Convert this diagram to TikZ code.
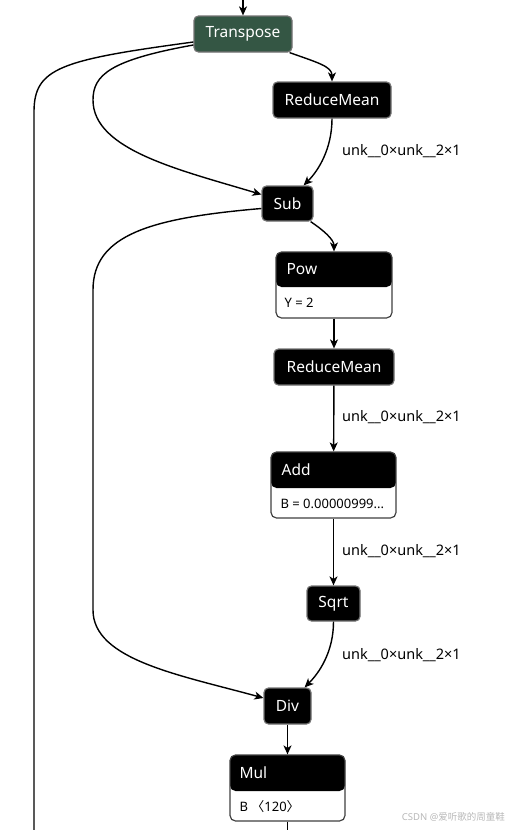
\documentclass[tikz,border=0pt]{standalone}
\usepackage{fontspec}
\setmainfont{Noto Sans}
\newfontfamily\cjk{Noto Sans CJK SC}
\usetikzlibrary{positioning,calc,arrows.meta}
\definecolor{tgreen}{RGB}{52,86,68}
\tikzset{
op/.style={draw=black!55,fill=black,text=white,rounded corners=4.5pt,line width=1.2pt,
minimum height=36pt,inner sep=0pt,font=\fontsize{15.5}{18}\selectfont},
opgreen/.style={op,fill=tgreen},
attr/.style={draw=black!75,fill=white,rounded corners=5.5pt,line width=1.2pt,inner sep=0pt,minimum height=66pt},
hdrfill/.style={path picture={\fill[black] (path picture bounding box.north west) rectangle ([yshift=-#1]path picture bounding box.north east);}},
hdr/.style={anchor=west,inner sep=0pt,text=white,font=\fontsize{15.5}{18}\selectfont},
attrtxt/.style={anchor=west,inner sep=0pt,font=\fontsize{13}{15}\selectfont},
dimlbl/.style={anchor=west,inner sep=0pt,font=\fontsize{14.5}{17}\selectfont},
flow/.style={-{Stealth[length=9pt,width=8pt,inset=2.5pt]},line width=1.4pt},
wire/.style={line width=1.4pt},
wmark/.style={anchor=east,inner sep=0pt,text=black!28,font=\fontsize{9.5}{11}\selectfont}
}

\begin{document}
\begin{tikzpicture}[x=1pt,y=-1pt]
\useasboundingbox (0,0) rectangle (509,830);
\node[opgreen,minimum width=98pt] (trans) at (243,34) {Transpose};
\node[op,minimum width=118pt] (rm1) at (332,100) {ReduceMean};
\node[op,minimum width=51pt,minimum height=35pt] (sub) at (287.5,203.5) {Sub};
\node[attr,hdrfill=35pt,minimum width=116pt] (pow) at (334,285) {};
\node[hdr] (powt) at ($(pow.north west)+(11,17.5)$) {Pow};
\node[attrtxt] (powa) at ($(pow.south west)+(9,-15.5)$) {Y = 2};
\node[op,minimum width=120pt] (rm2) at (334,367) {ReduceMean};
\node[attr,hdrfill=36pt,minimum width=125pt] (add) at (333.5,485) {};
\node[hdr] (addt) at ($(add.north west)+(11,18)$) {Add};
\node[attrtxt] (adda) at ($(add.south west)+(10,-15)$) {B = 0.00000999...};
\node[op,minimum width=53pt,minimum height=35pt] (sqrt) at (333.5,603.5) {Sqrt};
\node[op,minimum width=47pt] (div) at (287.5,706) {Div};
\node[attr,hdrfill=36pt,minimum width=115pt] (mul) at (287.5,788) {};
\node[hdr] (mult) at ($(mul.north west)+(10,18)$) {Mul};
\node[attrtxt] (mula) at ($(mul.south west)+(10,-15)$) {\textbf{B} {\cjk 〈}120{\cjk 〉}};
\node[dimlbl] (d1) at (342,151) {unk\_\_0×unk\_\_2×1};
\node[dimlbl] (d2) at (342,417) {unk\_\_0×unk\_\_2×1};
\node[dimlbl] (d3) at (342,551) {unk\_\_0×unk\_\_2×1};
\node[dimlbl] (d4) at (342,655) {unk\_\_0×unk\_\_2×1};
\node[wmark] (wm) at (505,817) {CSDN @{\cjk 爱听歌的周童鞋}};
\coordinate (top) at (243,0);
\coordinate (outL) at (34,830);
\coordinate (outM) at (287.5,830);
\draw[flow] (top) -- (trans);
\draw[wire] ([yshift=-8pt]trans.west) .. controls (60,60) and (34,68) .. (34,112) -- (outL);
\draw[flow] ([yshift=-11pt]trans.west) .. controls (110,60) and (93,75) .. (93,100) .. controls (93,150) and (180,170) .. ([yshift=9pt]sub.west);
\draw[flow] ([xshift=-3pt]trans.south east) .. controls +(28,10) and +(0,-15) .. (rm1.north);
\draw[flow] (rm1.south) .. controls +(0,30) and +(15,-15) .. ([xshift=-10pt]sub.north east);
\draw[flow] ([xshift=-3pt]sub.south east) .. controls +(12,8) and +(0,-12) .. (pow.north);
\draw[flow] ([yshift=-5pt]sub.west) .. controls (150,218) and (93,235) .. (93,290) -- (93,610) .. controls (93,660) and (180,675) .. ([yshift=8pt]div.west);
\draw[flow] (pow) -- (rm2);
\draw[flow] (rm2) -- (add);
\draw[flow] (add) -- (sqrt);
\draw[flow] (sqrt.south) .. controls +(0,30) and +(15,-15) .. ([xshift=-7pt]div.north east);
\draw[flow] (div) -- (mul);
\draw[wire] (mul) -- (outM);
\end{tikzpicture}
\end{document}
